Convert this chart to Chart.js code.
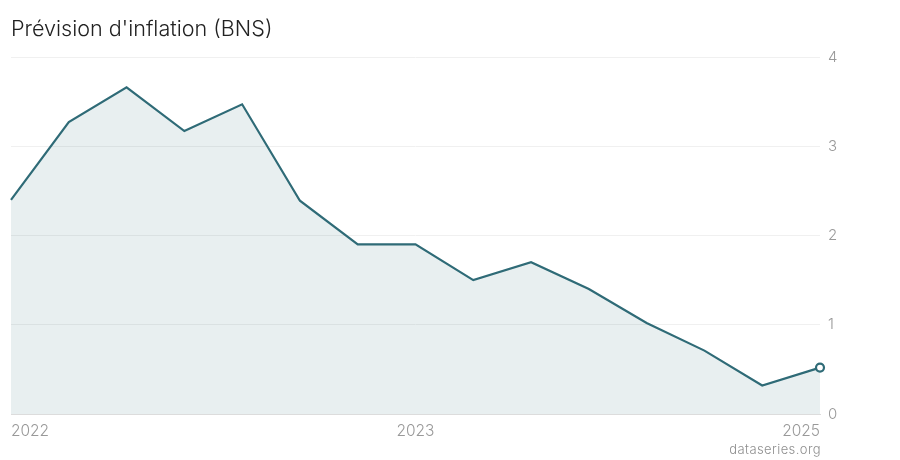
<!DOCTYPE html>
<html>
<head>
<meta charset="utf-8">
<script src="https://cdn.jsdelivr.net/npm/chart.js@4"></script>
<style>
  html, body { margin: 0; padding: 0; background: #fff; }
  #wrap { position: relative; width: 900px; height: 460px; }
  #title { position: absolute; left: 11px; top: 15px; font: 300 21.6px Inter, sans-serif; color: #222; }
  #src { position: absolute; right: 79px; top: 441px; font: 300 13px Inter, sans-serif; color: #8f8f8f; letter-spacing: 0.4px; }
</style>
</head>
<body>
<div id="wrap">
  <canvas id="chart" width="900" height="460"></canvas>
  <div id="title">Prévision d'inflation (BNS)</div>
  <div id="src">dataseries.org</div>
</div>
<script>
const categories = ['2022', '2022', '2022', '2022', '2022', '2022', '2022',
  '2023', '2023', '2023', '2023', '2024', '2024', '2024', '2025'];
const inflation = [2.4, 3.27, 3.66, 3.17, 3.47, 2.39, 1.9, 1.9, 1.5, 1.7, 1.4, 1.02, 0.71, 0.32, 0.52];
const shownTicks = [0, 7, 14];
const yTicks = [0, 1, 2, 3, 4];

const lineColor = '#2f6b77';

new Chart(document.getElementById('chart'), {
  type: 'line',
  data: {
    labels: categories,
    datasets: [{
      data: inflation,
      borderColor: lineColor,
      borderWidth: 2.2,
      backgroundColor: 'rgba(47,107,119,0.11)',
      fill: 'origin',
      tension: 0,
      pointRadius: ctx => ctx.dataIndex === inflation.length - 1 ? 4 : 0,
      pointBackgroundColor: '#fff',
      pointBorderColor: lineColor,
      pointBorderWidth: 2.2
    }]
  },
  options: {
    responsive: false,
    animation: false,
    layout: { padding: { left: 11, top: 57, right: 0, bottom: 0 } },
    plugins: { legend: { display: false }, tooltip: { enabled: false } },
    scales: {
      x: {
        grid: { display: false },
        border: { display: true, color: '#dcdcdc' },
        ticks: {
          autoSkip: false,
          maxRotation: 0,
          align: 'inner',
          padding: 0,
          color: '#999',
          font: { family: 'Inter', size: 15.5, weight: 300 },
          callback: (v, i) => shownTicks.includes(i) ? categories[i] : ''
        },
        afterFit: s => { s.height = 46; }
      },
      y: {
        position: 'right',
        min: 0,
        max: 4,
        afterBuildTicks: s => { s.ticks = yTicks.map(v => ({ value: v })); },
        grid: { color: '#f0f0f0', drawTicks: false },
        border: { display: false },
        ticks: {
          padding: 8,
          color: '#999',
          font: { family: 'Inter', size: 15, weight: 300 }
        },
        afterFit: s => { s.width = 80; }
      }
    }
  }
});
</script>
</body>
</html>
